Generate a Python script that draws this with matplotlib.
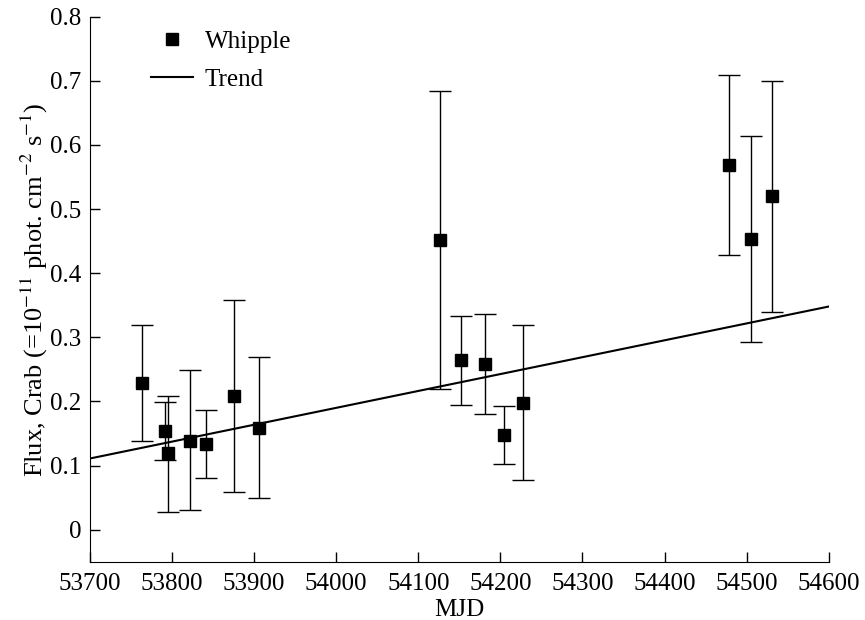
import matplotlib
matplotlib.use("Agg")
import matplotlib.pyplot as plt
from matplotlib.lines import Line2D
import numpy as np

# Whipple flux measurements, in Crab units
mjd = np.array([53763, 53791, 53795, 53822, 53841, 53876, 53906,
                54127, 54152, 54181, 54205, 54227,
                54478, 54505, 54531])
flux = np.array([0.228, 0.154, 0.120, 0.139, 0.134, 0.208, 0.158,
                 0.452, 0.265, 0.258, 0.148, 0.198,
                 0.569, 0.453, 0.520])
flux_hi = np.array([0.319, 0.199, 0.208, 0.249, 0.186, 0.358, 0.270,
                    0.684, 0.334, 0.336, 0.193, 0.319,
                    0.709, 0.614, 0.699])
flux_lo = np.array([0.139, 0.108, 0.028, 0.030, 0.081, 0.058, 0.049,
                    0.220, 0.195, 0.180, 0.103, 0.078,
                    0.428, 0.292, 0.339])

# linear trend
trend_mjd = [53700, 54600]
trend_flux = [0.111, 0.348]

plt.rcParams['font.family'] = ['Liberation Serif', 'DejaVu Serif']
plt.rcParams['mathtext.fontset'] = 'stix'

fig = plt.figure(figsize=(8.65, 6.2), dpi=100)
ax = fig.add_axes([0.104, 0.094, 0.854, 0.879])

yerr = [flux - flux_lo, flux_hi - flux]
ax.errorbar(mjd, flux, yerr=yerr, fmt='s', color='black', ms=8.5,
            elinewidth=1.0, capsize=8, capthick=1.0)
ax.plot(trend_mjd, trend_flux, color='black', lw=1.5)

ax.set_xlim(53700, 54600)
ax.set_ylim(-0.05, 0.8)
ax.set_xticks(np.arange(53700, 54601, 100))
ax.set_yticks(np.arange(0, 0.81, 0.1))
ax.set_yticklabels(['0'] + [f'{v:.1f}' for v in np.arange(0.1, 0.81, 0.1)])

ax.spines['top'].set_visible(False)
ax.spines['right'].set_visible(False)
ax.tick_params(direction='in', length=7, width=1, labelsize=18, pad=6)
ax.tick_params(axis='x', pad=8)

ax.set_xlabel('MJD', fontsize=18, labelpad=3)
ax.set_ylabel(r'Flux, Crab (=10$^{-11}$ phot. cm$^{-2}$ s$^{-1}$)',
              fontsize=19, labelpad=0)

handles = [Line2D([], [], ls='none', marker='s', color='black', ms=8.5),
           Line2D([], [], color='black', lw=1.5)]
ax.legend(handles, ['Whipple', 'Trend'], loc='upper left', frameon=False,
          fontsize=18, bbox_to_anchor=(0.052, 1.016),
          handlelength=1.67, handletextpad=0.48, labelspacing=0.62)

fig.savefig('out.png', dpi=100)
